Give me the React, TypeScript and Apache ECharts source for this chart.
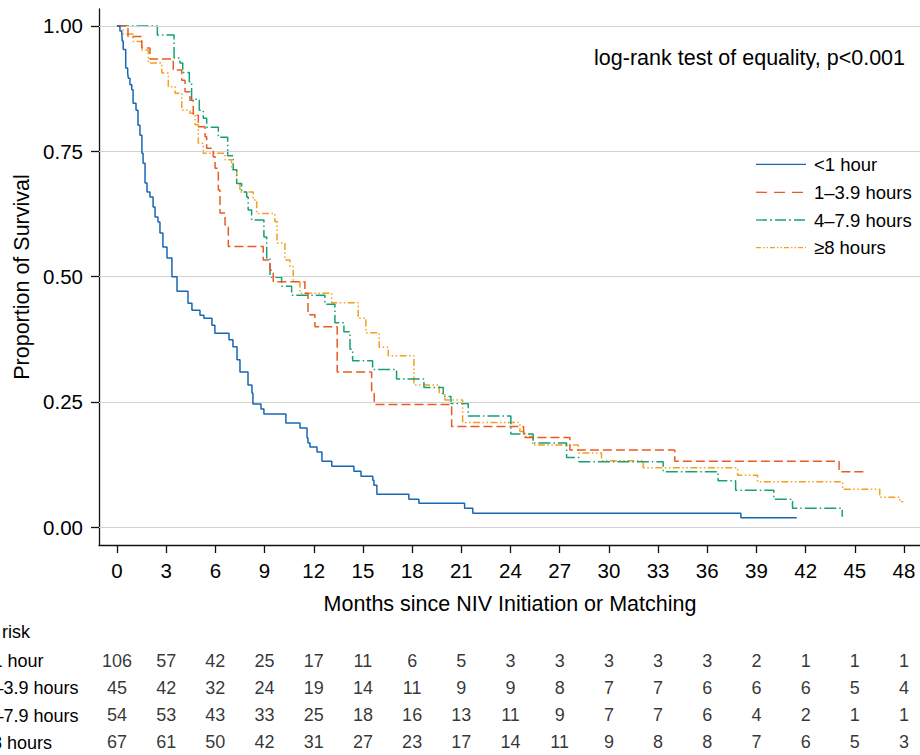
import React, { useEffect, useRef } from "react";
import * as echarts from "echarts";

const FONT = '"Liberation Sans", Arial, Helvetica, sans-serif';

const xTicks = [0, 3, 6, 9, 12, 15, 18, 21, 24, 27, 30, 33, 36, 39, 42, 45, 48];
const yTicks = [0, 0.25, 0.5, 0.75, 1];

const groupNames = ["<1 hour", "1–3.9 hours", "4–7.9 hours", "≥8 hours"];

const survLt1: [number, number][] = [
  [0, 1], [0.18, 0.99], [0.29, 0.985], [0.32, 0.97], [0.38, 0.953], [0.53, 0.916], [0.65, 0.906],
  [0.69, 0.896], [0.79, 0.883], [0.9, 0.873], [0.98, 0.846], [1.16, 0.832], [1.28, 0.802], [1.4, 0.782],
  [1.52, 0.746], [1.59, 0.726], [1.71, 0.687], [1.83, 0.669], [2.01, 0.659], [2.2, 0.639], [2.32, 0.619],
  [2.5, 0.609], [2.62, 0.587], [2.8, 0.559], [3.05, 0.537], [3.35, 0.5], [3.66, 0.471], [4.33, 0.447],
  [4.57, 0.433], [5.06, 0.423], [5.3, 0.417], [5.79, 0.403], [5.97, 0.387], [6.83, 0.374], [7.07, 0.36],
  [7.32, 0.334], [7.5, 0.31], [7.99, 0.284], [8.23, 0.268], [8.29, 0.246], [8.78, 0.236], [8.96, 0.226],
  [10.3, 0.208], [11.16, 0.198], [11.59, 0.178], [11.65, 0.168], [11.77, 0.16], [12.2, 0.15], [12.5, 0.132],
  [13.1, 0.122], [14.45, 0.112], [14.88, 0.102], [15.6, 0.094], [15.67, 0.084], [15.85, 0.066], [17.8, 0.056],
  [18.41, 0.048], [21.2, 0.038], [21.7, 0.028], [38.05, 0.019], [41.46, 0.019],
];

const surv1to3: [number, number][] = [
  [0, 1], [0.67, 0.979], [1.51, 0.956], [2.01, 0.934], [3.43, 0.912], [3.95, 0.892], [4.15, 0.869],
  [4.45, 0.852], [4.65, 0.822], [4.96, 0.799], [5.37, 0.779], [5.47, 0.756], [5.87, 0.739], [5.98, 0.716],
  [6.18, 0.673], [6.28, 0.627], [6.59, 0.603], [6.79, 0.56], [8.92, 0.533], [9.33, 0.513], [9.53, 0.49],
  [11.46, 0.467], [11.65, 0.424], [12.07, 0.4], [13.43, 0.31], [15.53, 0.267], [15.69, 0.245], [20.41, 0.201],
  [24.8, 0.179], [27.62, 0.154], [34.02, 0.132], [44.04, 0.111], [45.77, 0.111],
];

const surv4to7: [number, number][] = [
  [0, 1], [2.46, 0.982], [3.48, 0.936], [3.84, 0.926], [4.01, 0.907], [4.41, 0.889], [4.55, 0.854],
  [5.02, 0.832], [5.26, 0.816], [5.47, 0.798], [6.18, 0.778], [6.75, 0.741], [7.09, 0.713], [7.3, 0.686],
  [7.6, 0.669], [7.91, 0.659], [8.0, 0.633], [8.21, 0.613], [8.96, 0.579], [9.13, 0.537], [9.33, 0.499],
  [10.04, 0.481], [10.65, 0.463], [12.68, 0.445], [13.29, 0.408], [13.84, 0.39], [14.21, 0.355], [14.37, 0.332],
  [15.59, 0.315], [17.05, 0.296], [18.72, 0.279], [19.9, 0.261], [20.37, 0.247], [21.42, 0.222], [24.02, 0.186],
  [25.38, 0.168], [27.42, 0.139], [28.17, 0.131], [33.31, 0.111], [36.66, 0.093], [37.73, 0.074], [40.06, 0.056],
  [41.2, 0.038], [44.23, 0.021],
];

const surv8plus: [number, number][] = [
  [0, 1], [0.38, 0.984], [0.98, 0.969], [1.51, 0.952], [1.91, 0.926], [2.73, 0.906], [3.13, 0.879],
  [3.54, 0.866], [3.95, 0.832], [4.45, 0.826], [4.76, 0.803], [4.96, 0.766], [5.26, 0.746], [6.59, 0.733],
  [6.99, 0.713], [7.3, 0.686], [7.5, 0.669], [8.31, 0.653], [8.52, 0.626], [9.63, 0.61], [9.76, 0.567],
  [10.24, 0.533], [10.55, 0.52], [10.75, 0.49], [11.16, 0.467], [13.09, 0.448], [14.71, 0.417], [15.18, 0.388],
  [15.99, 0.359], [16.54, 0.342], [18.11, 0.284], [19.65, 0.267], [20.0, 0.254], [21.08, 0.209], [24.57, 0.191],
  [24.88, 0.181], [25.35, 0.164], [28.13, 0.148], [29.55, 0.133], [32.09, 0.119], [37.85, 0.104], [39.07, 0.091],
  [44.25, 0.076], [46.52, 0.06], [47.74, 0.051], [47.95, 0.051],
];

const riskLt1 = [106, 57, 42, 25, 17, 11, 6, 5, 3, 3, 3, 3, 3, 2, 1, 1, 1];
const risk1to3 = [45, 42, 32, 24, 19, 14, 11, 9, 9, 8, 7, 7, 6, 6, 6, 5, 4];
const risk4to7 = [54, 53, 43, 33, 25, 18, 16, 13, 11, 9, 7, 7, 6, 4, 2, 1, 1];
const risk8plus = [67, 61, 50, 42, 31, 27, 23, 17, 14, 11, 9, 8, 8, 7, 6, 5, 3];

const colors = ["#1767b4", "#ea5a24", "#16a077", "#f4a01c"];
const dashes: any[] = ["solid", [9, 4], [12, 3, 1.5, 3], [7, 2.5, 1.5, 2.5, 1.5, 2.5]];
const legendDashes: any[] = [null, [11, 7], [11, 3, 2, 3], [5, 2, 1.5, 2, 1.5, 2]];

// axis extents (plot region wider than the data range, as in the reference)
const XMIN = -1.098;
const XMAX = 48.975;
const YMIN = -0.0353;
const YMAX = 1.0339;

export default function App() {
  const ref = useRef<HTMLDivElement>(null);
  useEffect(() => {
    if (!ref.current) return;
    const chart = echarts.init(ref.current, undefined, { renderer: "svg" });
    const survData = [survLt1, surv1to3, surv4to7, surv8plus];
    const riskData = [riskLt1, risk1to3, risk4to7, risk8plus];
    const riskPoints: any[] = [];
    riskData.forEach((row, r) => {
      row.forEach((v, k) => riskPoints.push([xTicks[k], r, v]));
    });
    const rowY = [660.75, 688.25, 715.75, 743.25];
    const rowLabelRight = [43.5, 78.5, 78.5, 52];
    const legendY = [164.3, 192.3, 220, 247.7];
    const axisColor = "#111";
    const option: any = {
      animation: false,
      grid: [
        { left: 99, right: 0, top: 9, bottom: 210 },
        { left: 99, right: 0, top: 647, height: 110 },
      ],
      xAxis: [
        {
          gridIndex: 0,
          type: "value",
          min: XMIN,
          max: XMAX,
          axisLine: { show: true, onZero: false, lineStyle: { color: axisColor, width: 1.3 } },
          axisTick: { show: true, length: 8, customValues: xTicks, lineStyle: { color: axisColor, width: 1.3 } },
          axisLabel: { customValues: xTicks, margin: 15, fontSize: 20.5, color: "#000", fontFamily: FONT },
          splitLine: { show: false },
        },
        { gridIndex: 1, type: "value", min: XMIN, max: XMAX, show: false },
      ],
      yAxis: [
        {
          gridIndex: 0,
          type: "value",
          min: YMIN,
          max: YMAX,
          axisLine: { show: true, onZero: false, lineStyle: { color: axisColor, width: 1.3 } },
          axisTick: { show: true, length: 8, customValues: yTicks, lineStyle: { color: axisColor, width: 1.3 } },
          axisLabel: {
            customValues: yTicks,
            formatter: (v: number) => v.toFixed(2),
            margin: 16,
            fontSize: 20.5,
            color: "#000",
            fontFamily: FONT,
          },
          splitLine: { show: false },
        },
        { gridIndex: 1, type: "value", min: -0.5, max: 3.5, inverse: true, show: false },
      ],
      graphic: [
        {
          type: "text",
          x: 905,
          y: 58,
          style: {
            text: "log-rank test of equality, p<0.001",
            fontSize: 21.5,
            fontFamily: FONT,
            fill: "#000",
            textAlign: "right",
            textVerticalAlign: "middle",
          },
        },
        {
          type: "text",
          x: 22,
          y: 277,
          rotation: Math.PI / 2,
          style: {
            text: "Proportion of Survival",
            fontSize: 21.5,
            fontFamily: FONT,
            fill: "#000",
            textAlign: "center",
            textVerticalAlign: "middle",
          },
        },
        {
          type: "text",
          x: 510,
          y: 604,
          style: {
            text: "Months since NIV Initiation or Matching",
            fontSize: 21.5,
            fontFamily: FONT,
            fill: "#000",
            textAlign: "center",
            textVerticalAlign: "middle",
          },
        },
        {
          type: "text",
          x: 30,
          y: 632,
          style: {
            text: "Number at risk",
            fontSize: 18,
            fontFamily: FONT,
            fill: "#000",
            textAlign: "right",
            textVerticalAlign: "middle",
          },
        },
        ...groupNames.map((n, i) => ({
          type: "text",
          x: rowLabelRight[i],
          y: rowY[i],
          style: {
            text: n,
            fontSize: 18,
            fontFamily: FONT,
            fill: "#000",
            textAlign: "right",
            textVerticalAlign: "middle",
          },
        })),
        ...groupNames.map((n, i) => ({
          type: "line",
          shape: { x1: 756, y1: legendY[i], x2: 806, y2: legendY[i] },
          style: {
            stroke: colors[i],
            lineWidth: 1.3,
            lineDash: legendDashes[i],
          },
        })),
        ...groupNames.map((n, i) => ({
          type: "text",
          x: 814,
          y: legendY[i],
          style: {
            text: n,
            fontSize: 18.5,
            fontFamily: FONT,
            fill: "#000",
            textAlign: "left",
            textVerticalAlign: "middle",
          },
        })),
      ],
      series: [
        {
          type: "line",
          name: "__grid",
          xAxisIndex: 0,
          yAxisIndex: 0,
          data: [[0, 1]],
          symbol: "none",
          lineStyle: { opacity: 0 },
          silent: true,
          z: 1,
          markLine: {
            silent: true,
            symbol: ["none", "none"],
            label: { show: false },
            lineStyle: { color: "#d2d2d2", width: 1.2, type: "solid" },
            data: yTicks.map((v) => ({ yAxis: v })),
          },
        },
        ...survData.map((d, i) => ({
          type: "line",
          name: groupNames[i],
          xAxisIndex: 0,
          yAxisIndex: 0,
          step: "end",
          data: d,
          symbol: "none",
          showSymbol: false,
          z: 3 + (3 - i),
          itemStyle: { color: colors[i] },
          lineStyle: { color: colors[i], width: 1.5, type: dashes[i] },
        })),
        {
          type: "scatter",
          name: "__risk",
          xAxisIndex: 1,
          yAxisIndex: 1,
          data: riskPoints,
          symbolSize: 0,
          silent: true,
          itemStyle: { color: "rgba(0,0,0,0)" },
          label: {
            show: true,
            position: "inside",
            formatter: (p: any) => String(p.value[2]),
            fontSize: 18,
            fontFamily: FONT,
            color: "#000",
          },
        },
      ],
    };
    chart.setOption(option);
    return () => chart.dispose();
  }, []);
  return (
    <div
      ref={ref}
      style={{ position: "fixed", left: 0, top: 0, width: 920, height: 755, background: "#fff" }}
    />
  );
}
